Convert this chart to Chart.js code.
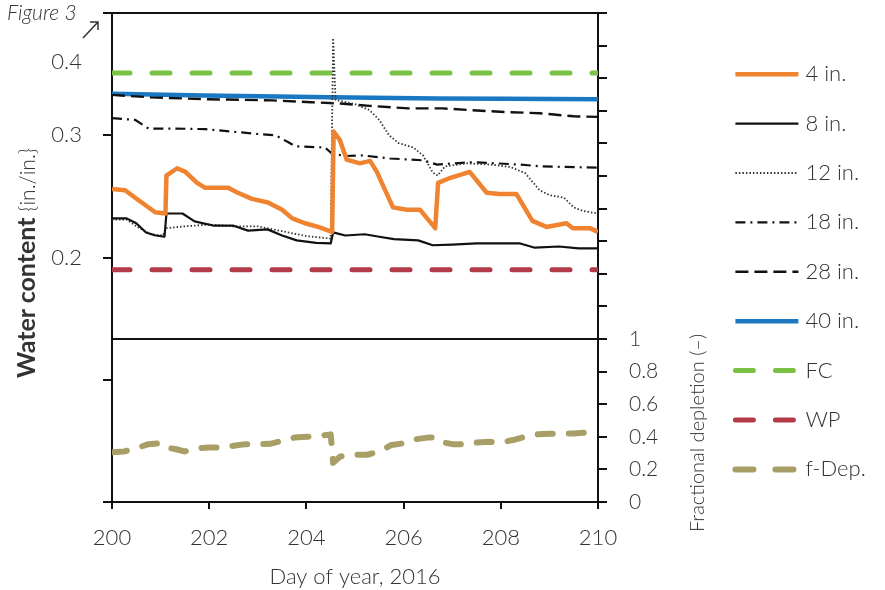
<!DOCTYPE html>
<html>
<head>
<meta charset="utf-8">
<script src="https://cdn.jsdelivr.net/npm/chart.js@4.4.1/dist/chart.umd.min.js"></script>
<style>
  body { margin: 0; background: #fff; }
  #wrap { position: relative; width: 885px; height: 590px; font-family: Lato, "Open Sans", sans-serif; font-weight: 300; color: #333; }
  .txt { position: absolute; white-space: nowrap; text-align: center; }
  #fig { left: 7px; top: 0px; font-size: 21px; font-style: italic; line-height: 24px; }
  #ytitle { left: -125px; top: 248px; width: 300px; height: 30px; line-height: 30px; font-size: 21px; transform: rotate(-90deg); }
  #ytitle b { font-weight: 700; font-size: 25px; }
  #y2title { left: 566px; top: 419px; width: 260px; height: 28px; line-height: 28px; font-size: 20px; transform: rotate(-90deg); }
  #seta { position: absolute; left: 80px; top: 18px; }
</style>
</head>
<body>
<div id="wrap">
  <canvas id="grafico" width="885" height="590"></canvas>
  <div class="txt" id="fig">Figure 3</div>
  <svg id="seta" width="22" height="24" viewBox="0 0 22 24">
    <path d="M3 20 L18 4 M10 4 L18 4 L18 12" fill="none" stroke="#333" stroke-width="1.5"/>
  </svg>
  <div class="txt" id="ytitle"><b>Water content</b> {in./in.}</div>
  <div class="txt" id="y2title">Fractional depletion (–)</div>
</div>
<script>
// eixos: dia do ano e rótulos dos ticks
const dayTicks = [200, 202, 204, 206, 208, 210];
const wcTickLabels = [0.2, 0.3];
const depTickLabels = [0, 0.2, 0.4, 0.6, 0.8, 1];

// conteúdo de água (in./in.) por profundidade
const dias4 = [200.0, 200.27, 200.54, 200.89, 201.10, 201.12, 201.34, 201.51, 201.75, 201.92, 202.39, 202.59, 202.88, 203.21, 203.50, 203.71, 203.97, 204.24, 204.53, 204.56, 204.69, 204.83, 205.10, 205.31, 205.45, 205.78, 206.07, 206.34, 206.65, 206.71, 206.95, 207.36, 207.71, 207.97, 208.32, 208.65, 208.94, 209.35, 209.48, 209.83, 210.0];
const wc4 = [0.256, 0.255, 0.247, 0.237, 0.236, 0.267, 0.273, 0.270, 0.261, 0.257, 0.257, 0.253, 0.248, 0.245, 0.239, 0.232, 0.228, 0.225, 0.221, 0.303, 0.296, 0.280, 0.277, 0.279, 0.270, 0.241, 0.239, 0.239, 0.224, 0.261, 0.265, 0.270, 0.253, 0.252, 0.252, 0.230, 0.225, 0.228, 0.224, 0.224, 0.221];

const dias8 = [200.0, 200.3, 200.5, 200.7, 200.9, 201.08, 201.12, 201.45, 201.7, 202.1, 202.5, 202.8, 203.2, 203.5, 203.8, 204.2, 204.5, 204.55, 204.8, 205.2, 205.5, 205.8, 206.3, 206.6, 207.0, 207.5, 208.0, 208.4, 208.7, 209.2, 209.6, 210.0];
const wc8 = [0.232, 0.232, 0.228, 0.2205, 0.218, 0.217, 0.236, 0.236, 0.2295, 0.226, 0.226, 0.222, 0.223, 0.218, 0.214, 0.212, 0.2115, 0.2205, 0.218, 0.219, 0.217, 0.215, 0.214, 0.210, 0.2105, 0.2115, 0.2115, 0.2115, 0.208, 0.209, 0.2075, 0.2075];

const dias12 = [200.0, 200.3, 200.5, 200.8, 201.05, 201.12, 201.5, 202.0, 202.5, 203.0, 203.5, 204.0, 204.5, 204.55, 204.6, 205.0, 205.3, 205.5, 205.7, 205.9, 206.2, 206.4, 206.6, 206.7, 206.85, 207.3, 207.8, 208.2, 208.5, 208.8, 209.0, 209.3, 209.5, 209.7, 210.0];
const wc12 = [0.231, 0.231, 0.2255, 0.219, 0.218, 0.224, 0.2255, 0.227, 0.2255, 0.2255, 0.2215, 0.2175, 0.2155, 0.3795, 0.329, 0.3255, 0.3205, 0.3125, 0.300, 0.2935, 0.290, 0.2835, 0.2695, 0.267, 0.2745, 0.277, 0.276, 0.274, 0.269, 0.255, 0.251, 0.249, 0.241, 0.238, 0.236];

const dias18 = [200.0, 200.48, 200.75, 201.3, 201.92, 202.6, 203.0, 203.36, 203.62, 203.77, 204.38, 204.53, 204.8, 205.16, 205.72, 206.4, 206.69, 207.43, 208.39, 208.86, 210.0];
const wc18 = [0.314, 0.3125, 0.3055, 0.3055, 0.305, 0.3025, 0.301, 0.300, 0.2945, 0.291, 0.290, 0.285, 0.283, 0.2835, 0.281, 0.2795, 0.276, 0.278, 0.276, 0.2745, 0.2735];

const dias28 = [200.0, 200.8, 201.9, 203.3, 204.1, 204.7, 205.3, 206.1, 206.8, 207.4, 208.1, 208.8, 209.5, 210.0];
const wc28 = [0.333, 0.331, 0.3295, 0.3285, 0.327, 0.326, 0.324, 0.322, 0.322, 0.3205, 0.319, 0.318, 0.3155, 0.315];

const dias40 = [200.0, 201.9, 204.5, 206.7, 208.1, 210.0];
const wc40 = [0.334, 0.3325, 0.331, 0.330, 0.3298, 0.3295];

// capacidade de campo e ponto de murcha
const diasRef = [200, 210];
const fc = [0.351, 0.351];
const wp = [0.190, 0.190];

// depleção fracional (eixo da direita)
const diasDep = [200.0, 200.25, 200.5, 200.75, 201.0, 201.1, 201.3, 201.5, 201.75, 202.0, 202.25, 202.5, 202.75, 203.0, 203.25, 203.5, 203.75, 204.0, 204.25, 204.5, 204.55, 204.7, 205.0, 205.25, 205.5, 205.75, 206.0, 206.25, 206.5, 206.65, 206.75, 207.0, 207.25, 207.5, 207.75, 208.0, 208.25, 208.5, 208.75, 209.0, 209.25, 209.5, 209.75, 210.0];
const fDep = [0.305, 0.31, 0.33, 0.355, 0.36, 0.335, 0.325, 0.31, 0.33, 0.335, 0.335, 0.345, 0.355, 0.355, 0.357, 0.375, 0.395, 0.40, 0.405, 0.415, 0.24, 0.28, 0.29, 0.29, 0.31, 0.35, 0.36, 0.385, 0.395, 0.395, 0.37, 0.355, 0.355, 0.365, 0.37, 0.365, 0.38, 0.40, 0.415, 0.418, 0.42, 0.42, 0.425, 0.43];

const FONTE = 'Lato, "Open Sans", sans-serif';
const TINTA = '#333';
const EIXO = '#111';
const LINHA_LEGENDA = 63;
const LARGURA_LEGENDA = 177;

Chart.defaults.font.family = FONTE;
Chart.defaults.font.weight = '300';
Chart.defaults.color = TINTA;

// monta os pontos {x, y} de uma série
function pontos(xs, ys) {
    return xs.map((x, i) => ({ x: x, y: ys[i] }));
}

function serie(label, xs, ys, cor, largura, tracejado, ponta, eixo, tracoLegenda) {
    return {
        label: label,
        data: pontos(xs, ys),
        borderColor: cor,
        backgroundColor: cor,
        borderWidth: largura,
        borderDash: tracejado,
        borderCapStyle: ponta,
        borderJoinStyle: 'round',
        pointRadius: 0,
        pointHoverRadius: 0,
        pointStyle: 'line',
        tension: 0,
        fill: false,
        yAxisID: eixo,
        tracoLegenda: tracoLegenda || tracejado
    };
}

const perto = (v, lista) => lista.some(t => Math.abs(t - v) < 1e-9);

// o rótulo 0.4 aparece deslocado para baixo na figura original
const rotuloTopo = {
    id: 'rotuloTopo',
    afterDraw(chart) {
        const s = chart.scales.y;
        const c = chart.ctx;
        c.save();
        c.font = '300 22px ' + FONTE;
        c.fillStyle = TINTA;
        c.textAlign = 'right';
        c.textBaseline = 'middle';
        c.fillText('0.4', s.right - 9 - 21, s.getPixelForValue(0.4) + 49);
        c.restore();
    }
};

// largura fixa da legenda (o layout limita a caixa vertical a ~1/6 da tela)
const larguraLegenda = {
    id: 'larguraLegenda',
    beforeLayout(chart) {
        const lg = chart.legend;
        if (lg && !lg._larguraFixa) {
            const fitOriginal = lg.fit.bind(lg);
            lg.fit = function () {
                fitOriginal();
                this.width = LARGURA_LEGENDA;
            };
            lg._larguraFixa = true;
        }
    }
};

// a legenda do Chart.js não tracejava as amostras, então desenha aqui
const amostrasLegenda = {
    id: 'amostrasLegenda',
    afterDraw(chart) {
        const lg = chart.legend;
        const c = chart.ctx;
        lg.legendHitBoxes.forEach((hb, i) => {
            const ds = chart.data.datasets[lg.legendItems[i].datasetIndex];
            const y = hb.top + hb.height / 2;
            c.save();
            c.strokeStyle = ds.borderColor;
            c.lineWidth = ds.borderWidth;
            c.lineCap = ds.borderCapStyle;
            c.setLineDash(ds.tracoLegenda);
            c.beginPath();
            c.moveTo(hb.left, y);
            c.lineTo(hb.left + LINHA_LEGENDA, y);
            c.stroke();
            c.restore();
        });
    }
};

const ctx = document.getElementById('grafico').getContext('2d');
const chart = new Chart(ctx, {
    type: 'line',
    data: {
        datasets: [
            serie('4 in.', dias4, wc4, '#ef8330', 4.5, [], 'butt', 'y'),
            serie('8 in.', dias8, wc8, '#111111', 2.2, [], 'butt', 'y'),
            serie('12 in.', dias12, wc12, '#333333', 1.8, [1.5, 2], 'butt', 'y'),
            serie('18 in.', dias18, wc18, '#111111', 2.2, [10, 5, 2, 5], 'butt', 'y'),
            serie('28 in.', dias28, wc28, '#111111', 2.4, [13, 6], 'butt', 'y'),
            serie('40 in.', dias40, wc40, '#1a78c2', 4.5, [], 'butt', 'y'),
            serie('FC', diasRef, fc, '#7bc143', 5, [18, 22], 'round', 'y'),
            serie('WP', diasRef, wp, '#b23b47', 5, [18, 22], 'round', 'y'),
            serie('f-Dep.', diasDep, fDep, '#a89f66', 6, [15, 16], 'round', 'y2', [18, 22])
        ]
    },
    options: {
        responsive: false,
        animation: false,
        events: [],
        layout: { padding: { top: 13, left: 0, right: 0, bottom: 0 } },
        plugins: {
            tooltip: { enabled: false },
            legend: {
                position: 'right',
                align: 'start',
                title: { display: true, text: '', padding: 0, font: { size: 19, lineHeight: 1.2 } },
                labels: {
                    usePointStyle: true,
                    pointStyleWidth: 59,
                    boxHeight: 22,
                    padding: 27.4,
                    color: TINTA,
                    font: { size: 22, family: FONTE, weight: '300' },
                    generateLabels: (chart) => Chart.defaults.plugins.legend.labels.generateLabels(chart)
                        .map(it => Object.assign(it, { lineWidth: 0 }))
                }
            }
        },
        scales: {
            x: {
                type: 'linear',
                min: 200,
                max: 210,
                afterBuildTicks: (s) => { s.ticks = dayTicks.map(v => ({ value: v })); },
                afterFit: (s) => { s.height = 88; },
                ticks: { font: { size: 22 }, padding: 16, color: TINTA },
                grid: { drawOnChartArea: false, tickLength: 7, color: EIXO, lineWidth: 2 },
                border: { display: true, color: EIXO, width: 2 },
                title: { display: true, text: 'Day of year, 2016', font: { size: 22 }, color: TINTA, padding: 0 }
            },
            y: {
                position: 'left',
                min: 0,
                max: 0.4,
                afterFit: (s) => { s.width = 112; s.paddingTop = 0; s.paddingBottom = 0; },
                ticks: {
                    stepSize: 0.1,
                    padding: 21,
                    font: { size: 22 },
                    color: TINTA,
                    callback: (v) => perto(v, wcTickLabels) ? v.toFixed(1) : ''
                },
                grid: {
                    drawOnChartArea: true,
                    tickLength: 9,
                    lineWidth: 2,
                    tickColor: EIXO,
                    color: (c) => (c.tick && c.tick.value > 0.399) ? EIXO : 'rgba(0,0,0,0)'
                },
                border: { display: true, color: EIXO, width: 2 }
            },
            y2: {
                position: 'right',
                min: 0,
                max: 3,
                afterFit: (s) => { s.width = 110; s.paddingTop = 0; s.paddingBottom = 0; },
                ticks: {
                    stepSize: 0.2,
                    maxTicksLimit: 20,
                    padding: 22,
                    font: { size: 21 },
                    color: TINTA,
                    callback: (v) => perto(v, depTickLabels) ? String(Math.round(v * 10) / 10) : ''
                },
                grid: {
                    drawOnChartArea: true,
                    tickLength: 9,
                    lineWidth: 2,
                    tickColor: EIXO,
                    color: (c) => (c.tick && Math.abs(c.tick.value - 1) < 1e-9) ? EIXO : 'rgba(0,0,0,0)'
                },
                border: { display: true, color: EIXO, width: 2 }
            }
        }
    },
    plugins: [rotuloTopo, larguraLegenda, amostrasLegenda]
});
</script>
</body>
</html>
